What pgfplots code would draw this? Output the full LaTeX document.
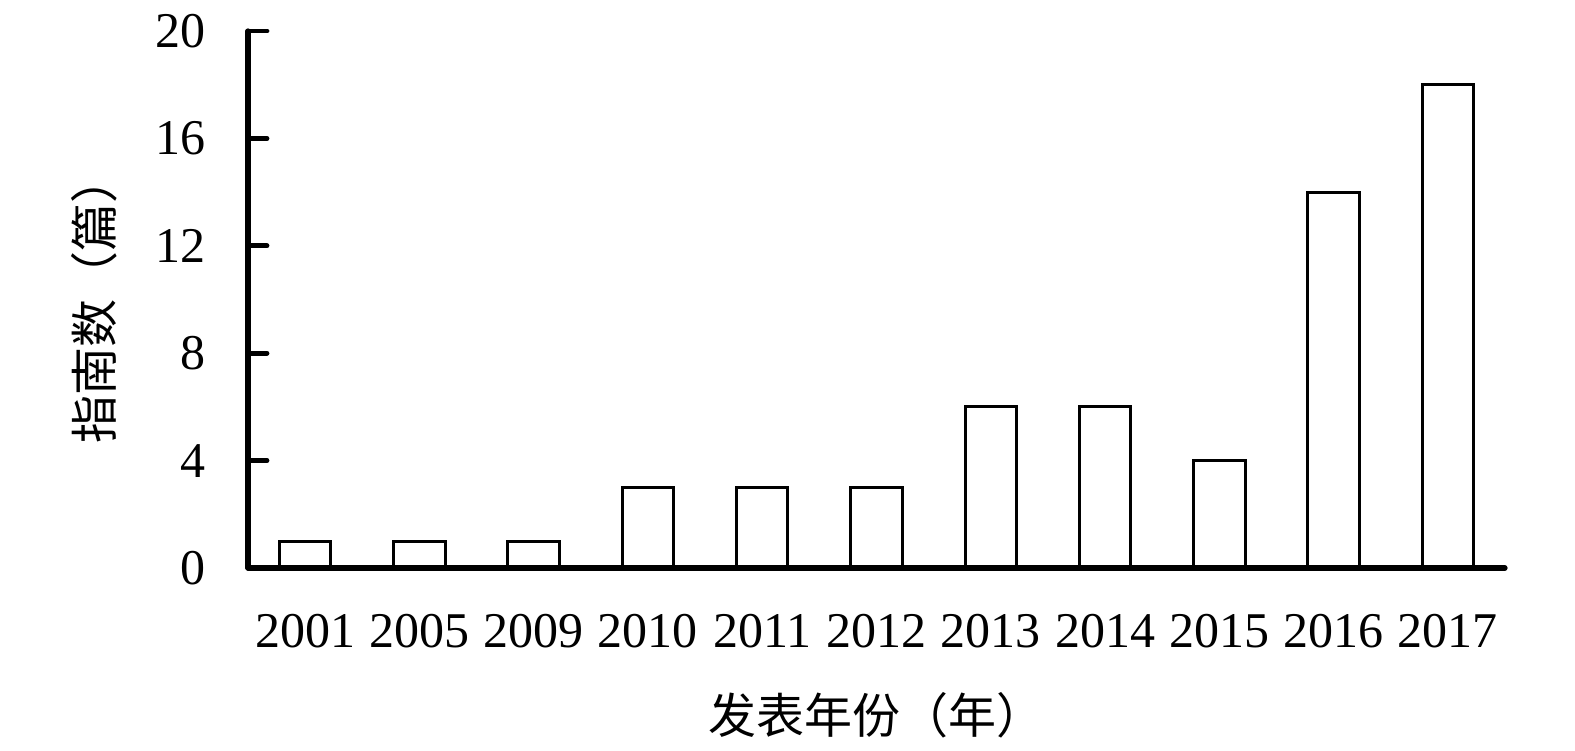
\documentclass[border=0pt]{standalone}
\usepackage{fontspec}
\setmainfont{Liberation Serif}
\newfontfamily\cjk{Noto Sans CJK SC}
\usepackage{pgfplots}
\pgfplotsset{compat=1.18}

\begin{document}
\begin{tikzpicture}
\begin{axis}[
    at={(0,0)}, anchor=south west,
    scale only axis,
    width=628.5pt, height=268.5pt,
    axis on top,
    axis lines*=left,
    axis line style={line width=2.6pt, line cap=round},
    ymin=0, ymax=20,
    ytick={0,4,...,20},
    xmin=-0.5, xmax=10.5,
    xtick={0,...,10},
    xticklabels={2001,2005,2009,2010,2011,2012,2013,2014,2015,2016,2017},
    tick align=inside,
    major tick length=9.5pt,
    xtick style={draw=none},
    ytick style={draw=black, line width=2.4pt, line cap=round},
    ybar, bar width=0.45,
    /pgf/number format/assume math mode=true,
    tick label style={font=\fontsize{25}{30}\selectfont},
    yticklabel style={anchor=east, inner sep=0pt, xshift=-21pt},
    xticklabel style={anchor=north, inner sep=0pt, yshift=-13.5pt},
    xlabel={\cjk 发表年份（年）},
    ylabel={\cjk 指南数（篇）},
    label style={font=\fontsize{24}{28}\selectfont},
    xlabel style={at={(axis description cs:0.5,-0.274)}, anchor=center},
    ylabel style={at={(axis description cs:-0.122,0.5)}, anchor=center},
    clip=false,
]
\addplot[draw=black, fill=white, line width=1.5pt] coordinates {
    (0,1) (1,1) (2,1) (3,3) (4,3) (5,3) (6,6) (7,6) (8,4) (9,14) (10,18)
};
\end{axis}
\pgfresetboundingbox
\useasboundingbox (-124pt,-91pt) rectangle (663.5pt,284pt);
\end{tikzpicture}
\end{document}
